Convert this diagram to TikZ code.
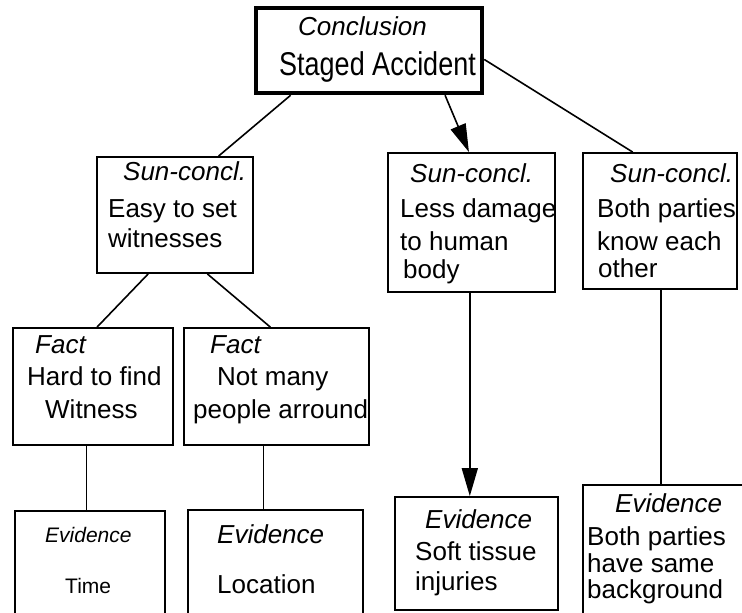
\documentclass[tikz,border=0pt]{standalone}
\usepackage{fontspec}
\setmainfont{Liberation Sans}
\usetikzlibrary{arrows.meta,calc,fit}
\begin{document}
\begin{tikzpicture}[x=1pt,y=-1pt,
  box/.style={draw,line width=1.8pt,inner sep=0pt},
  evbox/.style={draw,line width=2.6pt,inner sep=0pt},
  thickbox/.style={draw,line width=4.5pt,inner sep=0pt},
  txt/.style={anchor=base west,inner sep=0pt,font=\fontsize{26}{30}\selectfont},
  hd/.style={anchor=base west,inner sep=0pt,font=\fontsize{26}{30}\selectfont\itshape},
  small/.style={anchor=base west,inner sep=0pt,font=\fontsize{21}{25}\selectfont},
  smallhd/.style={anchor=base west,inner sep=0pt,font=\fontsize{21}{25}\selectfont\itshape},
  link/.style={line width=1.6pt},
  arr/.style={link,-{Triangle[length=28pt,width=16pt]}}]
\useasboundingbox (0,0) rectangle (742,613);
\clip (0,0) rectangle (742,613);

% boxes
\node[thickbox,fit={(256,8) (482,93)}] (concl) {};
\node[box,fit={(97,157) (253,273)}] (sc1) {};
\node[box,fit={(388,153) (555,292)}] (sc2) {};
\node[box,fit={(583,153) (737,289)}] (sc3) {};
\node[box,fit={(13,328) (173,445)}] (f1) {};
\node[box,fit={(184,328) (369,445)}] (f2) {};
\node[evbox,fit={(15,511) (165,630)}] (e1) {};
\node[evbox,fit={(188,510) (363,630)}] (e2) {};
\node[box,fit={(395,497) (558,610)}] (e3) {};
\node[evbox,fit={(583,485) (770,630)}] (e4) {};

% texts
\node[hd] (tc1) at (298,35) {Conclusion};
\node[txt,font=\fontsize{27}{30}\selectfont] (tc2) at (279,75) {\scalebox{1}[1.22]{Staged Accident}};

\node[hd] (ta1) at (123,180) {Sun-concl.};
\node[txt] (ta2) at (108,217) {Easy to set};
\node[txt] (ta3) at (108,247) {witnesses};

\node[hd] (tb1) at (410,182) {Sun-concl.};
\node[txt] (tb2) at (400,217) {Less damage};
\node[txt] (tb3) at (400,250) {to human};
\node[txt] (tb4) at (403,278) {body};

\node[hd] (td1) at (610,182) {Sun-concl.};
\node[txt] (td2) at (597,217) {Both parties};
\node[txt] (td3) at (597,250) {know each};
\node[txt] (td4) at (598,277) {other};

\node[hd] (tf1) at (35,353) {Fact};
\node[txt] (tf2) at (27,385) {Hard to find};
\node[txt] (tf3) at (45,418) {Witness};

\node[hd] (tg1) at (210,353) {Fact};
\node[txt] (tg2) at (217,385) {Not many};
\node[txt] (tg3) at (193,418) {people arround};

\node[smallhd] (th1) at (45,542) {Evidence};
\node[small] (th2) at (65,593) {Time};

\node[hd] (ti1) at (217,543) {Evidence};
\node[txt] (ti2) at (217,593) {Location};

\node[hd] (tj1) at (425,528) {Evidence};
\node[txt] (tj2) at (415,560) {Soft tissue};
\node[txt] (tj3) at (415,590) {injuries};

\node[hd] (tk1) at (615,512) {Evidence};
\node[txt] (tk2) at (587,545) {Both parties};
\node[txt] (tk3) at (587,572) {have same};
\node[txt] (tk4) at (587,598) {background};

% connectors
\draw[link] ($(concl.south west)!0.16!(concl.south east)$) -- ($(sc1.north west)!0.776!(sc1.north east)$);
\draw[arr] ($(concl.south west)!0.83!(concl.south east)$) -- ($(sc2.north west)!0.485!(sc2.north east)$);
\draw[link] ($(concl.north east)!0.6!(concl.south east)$) -- ($(sc3.north west)!0.325!(sc3.north east)$);

\draw[link] ($(sc1.south west)!0.33!(sc1.south east)$) -- ($(f1.north west)!0.525!(f1.north east)$);
\draw[link] ($(sc1.south west)!0.705!(sc1.south east)$) -- ($(f2.north west)!0.467!(f2.north east)$);

\coordinate (c1) at ($(f1.south west)!0.46!(f1.south east)$);
\coordinate (c2) at ($(f2.south west)!0.43!(f2.south east)$);
\coordinate (c3) at ($(sc2.south west)!0.49!(sc2.south east)$);
\coordinate (c4) at ($(sc3.south west)!0.506!(sc3.south east)$);
\draw[link] (c1) -- (c1 |- e1.north);
\draw[link] (c2) -- (c2 |- e2.north);
\draw[arr] (c3) -- (c3 |- e3.north);
\draw[link] (c4) -- (c4 |- e4.north);
\end{tikzpicture}
\end{document}
